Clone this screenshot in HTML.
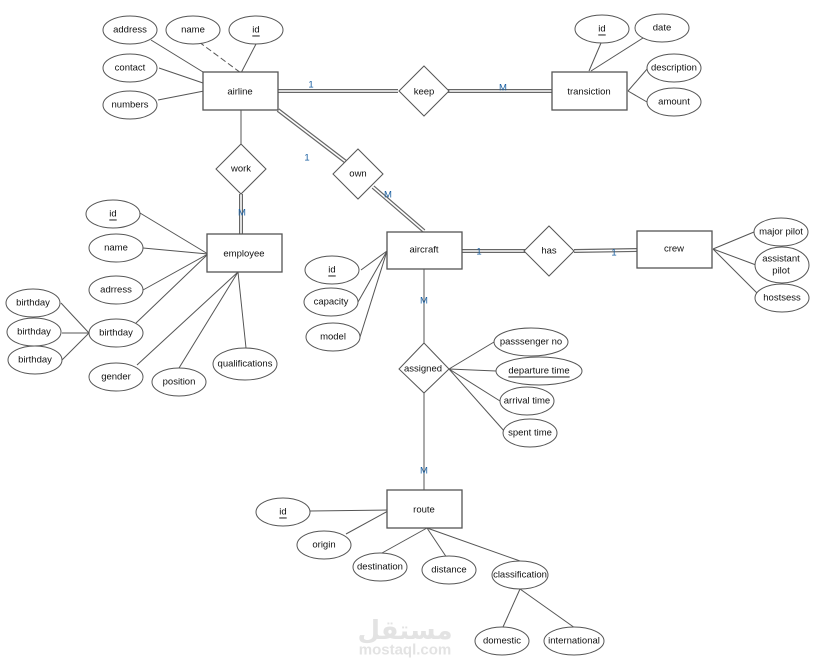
<!DOCTYPE html>
<html><head><meta charset="utf-8"><style>
html,body{margin:0;padding:0;background:#fff;}
svg{display:block;font-family:"Liberation Sans",Arial,sans-serif;}
text{font-size:9.5px;fill:#111;text-anchor:middle;dominant-baseline:central;}
.s{stroke:#555;stroke-width:1;fill:none;}
.b{stroke:#555;stroke-width:1.3;fill:#fff;}
.e{stroke:#555;stroke-width:1;fill:#fff;}
.d{stroke:#666;stroke-width:4;fill:none;}
.w{stroke:#fff;stroke-width:1.6;fill:none;}
.n{fill:#1a5fa0;}
</style></head><body>
<svg width="813" height="671" viewBox="0 0 813 671">
<!-- watermark -->
<text x="405" y="631" style="font-size:26px;fill:#e3e3e3;font-family:'DejaVu Sans',sans-serif;font-weight:bold">مستقل</text>
<text x="405" y="650" style="font-size:15px;fill:#e3e3e3;font-weight:bold">mostaql.com</text>

<!-- airline lines -->
<line class="s" x1="151" y1="40" x2="203" y2="72"/>
<line class="s" x1="199" y1="42" x2="241" y2="73" stroke-dasharray="6,3"/>
<line class="s" x1="256" y1="44" x2="241" y2="73"/>
<line class="s" x1="159" y1="68" x2="203" y2="83"/>
<line class="s" x1="158" y1="100" x2="204" y2="91"/>
<!-- double lines -->
<g>
<line class="d" x1="278" y1="91" x2="398" y2="91"/><line class="w" x1="278" y1="91" x2="398" y2="91"/>
<line class="d" x1="448" y1="91" x2="552" y2="91"/><line class="w" x1="448" y1="91" x2="552" y2="91"/>
<line class="d" x1="278" y1="110" x2="346" y2="162"/><line class="w" x1="278" y1="110" x2="346" y2="162"/>
<line class="d" x1="373" y1="187" x2="424" y2="231"/><line class="w" x1="373" y1="187" x2="424" y2="231"/>
<line class="d" x1="241" y1="194" x2="241" y2="234"/><line class="w" x1="241" y1="194" x2="241" y2="234"/>
<line class="d" x1="462" y1="251" x2="525" y2="251"/><line class="w" x1="462" y1="251" x2="525" y2="251"/>
<line class="d" x1="574" y1="251" x2="637" y2="250"/><line class="w" x1="574" y1="251" x2="637" y2="250"/>
</g>
<line class="s" x1="241" y1="110" x2="241" y2="144"/>
<!-- transiction lines -->
<line class="s" x1="601" y1="43" x2="589" y2="71"/>
<line class="s" x1="643" y1="38" x2="591" y2="71"/>
<line class="s" x1="648" y1="68" x2="628" y2="91"/>
<line class="s" x1="647" y1="102" x2="628" y2="91"/>
<!-- employee lines -->
<line class="s" x1="140" y1="213" x2="208" y2="254"/>
<line class="s" x1="143" y1="248" x2="208" y2="254"/>
<line class="s" x1="143" y1="290" x2="208" y2="254"/>
<line class="s" x1="136" y1="323" x2="208" y2="254"/>
<line class="s" x1="137" y1="365" x2="238" y2="272"/>
<line class="s" x1="179" y1="368" x2="238" y2="272"/>
<line class="s" x1="246" y1="348" x2="238" y2="272"/>
<line class="s" x1="61" y1="303" x2="89" y2="333"/>
<line class="s" x1="62" y1="333" x2="89" y2="333"/>
<line class="s" x1="62" y1="360" x2="89" y2="333"/>
<!-- aircraft lines -->
<line class="s" x1="361" y1="270" x2="387" y2="251"/>
<line class="s" x1="358" y1="302" x2="387" y2="251"/>
<line class="s" x1="360" y1="337" x2="387" y2="251"/>
<line class="s" x1="424" y1="269" x2="424" y2="343"/>
<!-- crew lines -->
<line class="s" x1="713" y1="249" x2="754" y2="232"/>
<line class="s" x1="713" y1="249" x2="756" y2="265"/>
<line class="s" x1="713" y1="249" x2="758" y2="294"/>
<!-- assigned lines -->
<line class="s" x1="449" y1="369" x2="494" y2="342"/>
<line class="s" x1="449" y1="369" x2="496" y2="371"/>
<line class="s" x1="449" y1="369" x2="500" y2="401"/>
<line class="s" x1="449" y1="369" x2="505" y2="432"/>
<line class="s" x1="424" y1="393" x2="424" y2="490"/>
<!-- route lines -->
<line class="s" x1="310" y1="511" x2="388" y2="510"/>
<line class="s" x1="346" y1="534" x2="388" y2="511"/>
<line class="s" x1="382" y1="553" x2="427" y2="528"/>
<line class="s" x1="447" y1="558" x2="427" y2="528"/>
<line class="s" x1="520" y1="561" x2="427" y2="528"/>
<line class="s" x1="503" y1="627" x2="520" y2="589"/>
<line class="s" x1="575" y1="628" x2="520" y2="589"/>

<!-- entities -->
<rect class="b" x="203" y="72" width="75" height="38"/><text x="240" y="92">airline</text>
<rect class="b" x="552" y="72" width="75" height="38"/><text x="589" y="92">transiction</text>
<rect class="b" x="207" y="234" width="75" height="38"/><text x="244" y="254">employee</text>
<rect class="b" x="387" y="232" width="75" height="37"/><text x="424" y="250">aircraft</text>
<rect class="b" x="637" y="231" width="75" height="37"/><text x="674" y="249">crew</text>
<rect class="b" x="387" y="490" width="75" height="38"/><text x="424" y="510">route</text>

<!-- relationships -->
<polygon class="e" points="424,66 449,91 424,116 399,91"/><text x="424" y="92">keep</text>
<polygon class="e" points="241,144 266,169 241,194 216,169"/><text x="241" y="169">work</text>
<polygon class="e" points="358,149 383,174 358,199 333,174"/><text x="358" y="174">own</text>
<polygon class="e" points="549,226 574,251 549,276 524,251"/><text x="549" y="251">has</text>
<polygon class="e" points="424,343 449,369 424,393 399,369"/><text x="423" y="369">assigned</text>

<!-- cardinalities -->
<text class="n" x="311" y="85">1</text>
<text class="n" x="503" y="88">M</text>
<text class="n" x="307" y="158">1</text>
<text class="n" x="388" y="195">M</text>
<text class="n" x="242" y="213">M</text>
<text class="n" x="479" y="252">1</text>
<text class="n" x="614" y="253">1</text>
<text class="n" x="424" y="301">M</text>
<text class="n" x="424" y="471">M</text>

<!-- attributes -->
<g>
<ellipse class="e" cx="130" cy="30" rx="27" ry="14"/><text x="130" y="30">address</text>
<ellipse class="e" cx="193" cy="30" rx="27" ry="14"/><text x="193" y="30">name</text>
<ellipse class="e" cx="256" cy="30" rx="27" ry="14"/><text x="256" y="30" text-decoration="underline">id</text>
<ellipse class="e" cx="130" cy="68" rx="27" ry="14"/><text x="130" y="68">contact</text>
<ellipse class="e" cx="130" cy="105" rx="27" ry="14"/><text x="130" y="105">numbers</text>

<ellipse class="e" cx="602" cy="29" rx="27" ry="14"/><text x="602" y="29" text-decoration="underline">id</text>
<ellipse class="e" cx="662" cy="28" rx="27" ry="14"/><text x="662" y="28">date</text>
<ellipse class="e" cx="674" cy="68" rx="27" ry="14"/><text x="674" y="68">description</text>
<ellipse class="e" cx="674" cy="102" rx="27" ry="14"/><text x="674" y="102">amount</text>

<ellipse class="e" cx="113" cy="214" rx="27" ry="14"/><text x="113" y="214" text-decoration="underline">id</text>
<ellipse class="e" cx="116" cy="248" rx="27" ry="14"/><text x="116" y="248">name</text>
<ellipse class="e" cx="116" cy="290" rx="27" ry="14"/><text x="116" y="290">adrress</text>
<ellipse class="e" cx="116" cy="333" rx="27" ry="14"/><text x="116" y="333">birthday</text>
<ellipse class="e" cx="116" cy="377" rx="27" ry="14"/><text x="116" y="377">gender</text>
<ellipse class="e" cx="179" cy="382" rx="27" ry="14"/><text x="179" y="382">position</text>
<ellipse class="e" cx="245" cy="364" rx="32" ry="16"/><text x="245" y="364">qualifications</text>
<ellipse class="e" cx="33" cy="303" rx="27" ry="14"/><text x="33" y="303">birthday</text>
<ellipse class="e" cx="34" cy="332" rx="27" ry="14"/><text x="34" y="332">birthday</text>
<ellipse class="e" cx="35" cy="360" rx="27" ry="14"/><text x="35" y="360">birthday</text>

<ellipse class="e" cx="332" cy="270" rx="27" ry="14"/><text x="332" y="270" text-decoration="underline">id</text>
<ellipse class="e" cx="331" cy="302" rx="27" ry="14"/><text x="331" y="302">capacity</text>
<ellipse class="e" cx="333" cy="337" rx="27" ry="14"/><text x="333" y="337">model</text>

<ellipse class="e" cx="781" cy="232" rx="27" ry="14"/><text x="781" y="232">major pilot</text>
<ellipse class="e" cx="782" cy="265" rx="27" ry="18"/><text x="781" y="259">assistant</text><text x="781" y="271">pilot</text>
<ellipse class="e" cx="782" cy="298" rx="27" ry="14"/><text x="782" y="298">hostsess</text>

<ellipse class="e" cx="531" cy="342" rx="37" ry="14"/><text x="531" y="342">passsenger no</text>
<ellipse class="e" cx="539" cy="371" rx="43" ry="14"/><text x="539" y="371" text-decoration="underline">departure time</text>
<ellipse class="e" cx="527" cy="401" rx="27" ry="14"/><text x="527" y="401">arrival  time</text>
<ellipse class="e" cx="530" cy="433" rx="27" ry="14"/><text x="530" y="433">spent time</text>

<ellipse class="e" cx="283" cy="512" rx="27" ry="14"/><text x="283" y="512" text-decoration="underline">id</text>
<ellipse class="e" cx="324" cy="545" rx="27" ry="14"/><text x="324" y="545">origin</text>
<ellipse class="e" cx="380" cy="567" rx="27" ry="14"/><text x="380" y="567">destination</text>
<ellipse class="e" cx="449" cy="570" rx="27" ry="14"/><text x="449" y="570">distance</text>
<ellipse class="e" cx="520" cy="575" rx="28" ry="14"/><text x="520" y="575">classification</text>
<ellipse class="e" cx="502" cy="641" rx="27" ry="14"/><text x="502" y="641">domestic</text>
<ellipse class="e" cx="574" cy="641" rx="30" ry="14"/><text x="574" y="641">international</text>
</g>
</svg>
</body></html>
